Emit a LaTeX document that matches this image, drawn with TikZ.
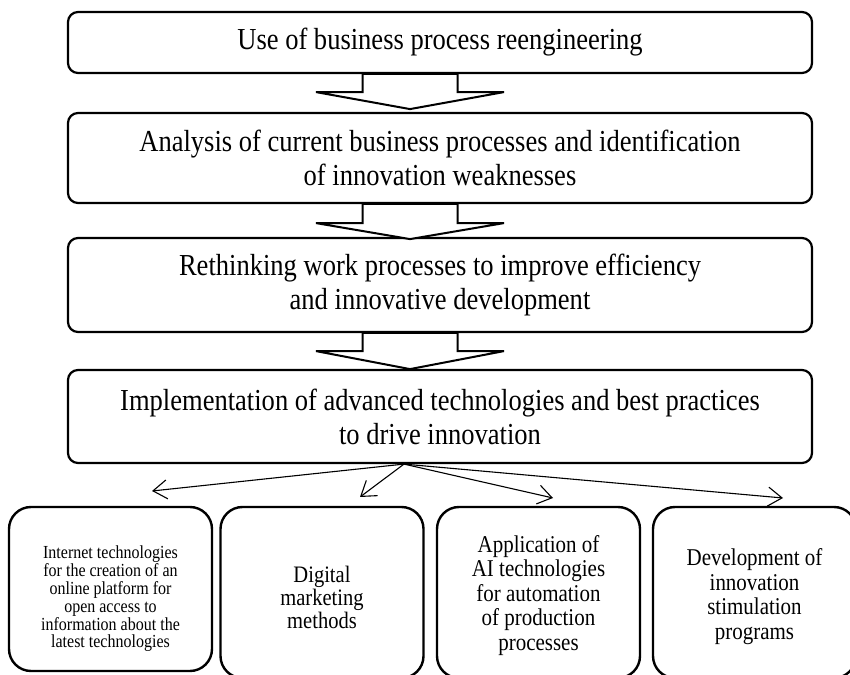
\documentclass[tikz,border=0pt]{standalone}
\usepackage{fontspec}
\setmainfont[FakeStretch=0.87]{Liberation Serif}
\usetikzlibrary{arrows.meta,calc}
\begin{document}
\begin{tikzpicture}[x=1pt,y=1pt,
  mainbox/.style={draw,line width=2.2pt,rounded corners=10pt,inner sep=0pt,
    minimum width=744pt,align=center,font=\fontsize{30.5}{34}\selectfont},
  subbox/.style={draw,line width=2.4pt,rounded corners=22pt,inner sep=0pt,
    minimum width=203pt},
  subtext/.style={inner sep=0pt,align=center},
  blk/.style={draw,line width=2pt,line join=miter,fill=white},
  thin/.style={line width=1.1pt,-{Straight Barb[length=14pt,width=19pt,line width=1.1pt]}}
]
\useasboundingbox (0,0) rectangle (850,674);

\node[mainbox,minimum height=61pt] (b1) at (440,631.5) {Use of business process reengineering};
\node[mainbox,minimum height=90pt] (b2) at (440,516) {Analysis of current business processes and identification\\of innovation weaknesses};
\node[mainbox,minimum height=94pt] (b3) at (440,389) {Rethinking work processes to improve efficiency\\and innovative development};
\node[mainbox,minimum height=93pt] (b4) at (440,257.5) {Implementation of advanced technologies and best practices\\to drive innovation};

\node[subbox,minimum height=164pt] (s1) at (110.5,85) {};
\node[subbox,minimum height=171pt] (s2) at (322,81.5) {};
\node[subbox,minimum height=171pt] (s3) at (538.5,81.5) {};
\node[subbox,minimum height=171pt] (s4) at (754.5,81.5) {};

\node[subtext,font=\fontsize{18.4}{17.8}\selectfont] (s1t) at ([yshift=-10pt]s1.center) {Internet technologies\\for the creation of an\\online platform for\\open access to\\information about the\\latest technologies};
\node[subtext,font=\fontsize{23.6}{23}\selectfont] (s2t) at ([yshift=-5pt]s2.center) {Digital\\marketing\\methods};
\node[subtext,font=\fontsize{24.1}{24.5}\selectfont] (s3t) at ([yshift=-3pt]s3.center) {Application of\\AI technologies\\for automation\\of production\\processes};
\node[subtext,font=\fontsize{24.1}{24.5}\selectfont] (s4t) at ([yshift=-4pt]s4.center) {Development of\\innovation\\stimulation\\programs};

% block arrows between main boxes
\newcommand\blockarrow[4]{% from node, to node, shoulder depth, tip depth
  \path[blk] ([xshift=-77.5pt]#1.south) -- ([xshift=-77.5pt,yshift=-#3]#1.south)
    -- ([xshift=-124pt,yshift=-#3]#1.south) -- ([xshift=-30pt,yshift=-#4]#1.south)
    -- ([xshift=64pt,yshift=-#3]#1.south) -- ([xshift=17.5pt,yshift=-#3]#1.south)
    -- ([xshift=17.5pt]#1.south);
  \draw[line width=2.4pt] ([xshift=-77.5pt]#1.south) -- ([xshift=17.5pt]#1.south);
}
\blockarrow{b1}{b2}{18pt}{35pt}
\blockarrow{b2}{b3}{19pt}{35pt}
\blockarrow{b3}{b4}{18pt}{36pt}

% thin arrows
\coordinate (o) at ([xshift=-36pt]b4.south);
\coordinate (t1) at (152,183);
\coordinate (t2) at (360,177);
\coordinate (t3) at (553,176);
\coordinate (t4) at (783,176);
\draw[thin] (o) -- (t1);
\draw[thin] (o) -- (t2);
\draw[thin] (o) -- (t3);
\draw[thin] (o) -- (t4);
\end{tikzpicture}
\end{document}
